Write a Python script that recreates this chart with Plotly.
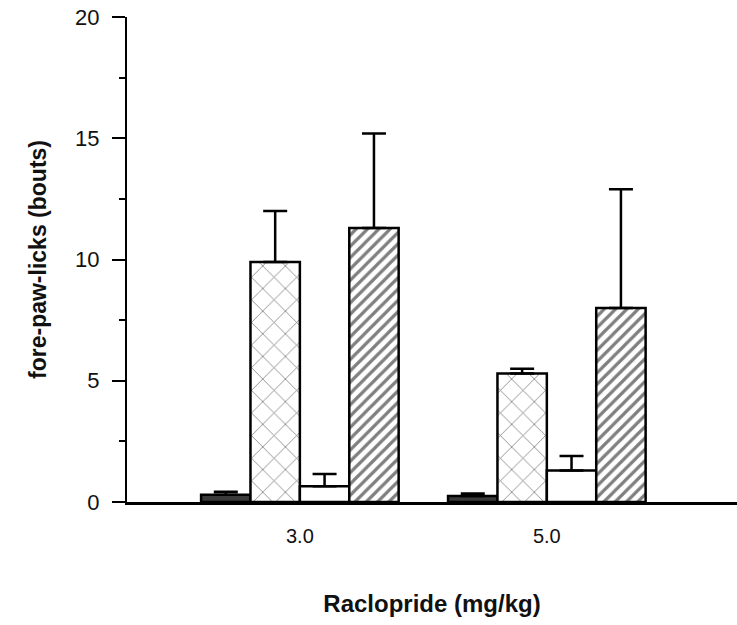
import plotly.graph_objects as go

doses = ["3.0", "5.0"]
x_pos = [0, 1]
black_vals = [0.30, 0.25]
black_err = [0.12, 0.10]
dashed_vals = [9.9, 5.3]
dashed_err = [2.1, 0.2]
white_vals = [0.65, 1.3]
white_err = [0.5, 0.6]
hatched_vals = [11.3, 8.0]
hatched_err = [3.9, 4.9]

fig = go.Figure()

def add_bar(vals, errs, fill, pattern=None):
    marker = dict(color=fill, line=dict(color="black", width=2.5))
    if pattern:
        marker["pattern"] = pattern
    fig.add_trace(go.Bar(
        x=x_pos, y=vals, marker=marker,
        error_y=dict(type="data", symmetric=False, array=errs,
                     arrayminus=[0] * len(errs), color="black",
                     thickness=2.5, width=12),
        showlegend=False,
    ))

add_bar(black_vals, black_err, "#3a3a3a")
add_bar(dashed_vals, dashed_err, "white",
        dict(shape="x", fgcolor="black", bgcolor="white", size=16, solidity=0.1))
add_bar(white_vals, white_err, "white")
add_bar(hatched_vals, hatched_err, "white",
        dict(shape="/", fgcolor="black", bgcolor="white", size=8, solidity=0.4))

fig.update_layout(
    width=737, height=625,
    margin=dict(l=127, r=0, t=17, b=123),
    plot_bgcolor="white", paper_bgcolor="white",
    barmode="group", bargap=0.2, bargroupgap=0,
    font=dict(family="Liberation Sans, Arial, sans-serif", color="#111"),
)
fig.update_xaxes(
    range=[-0.70, 1.77], tickvals=x_pos, ticktext=doses,
    showline=True, linecolor="black", linewidth=2.5,
    showgrid=False, zeroline=False, ticks="",
    tickfont=dict(size=20), ticklabelstandoff=14,
    title=dict(text="<b>Raclopride (mg/kg)</b>", font=dict(size=24), standoff=50),
)
fig.update_yaxes(
    range=[0, 20], tickvals=[0, 5, 10, 15, 20],
    showline=True, linecolor="black", linewidth=2,
    showgrid=False, zeroline=False,
    ticks="outside", ticklen=13, tickwidth=2, tickcolor="black",
    minor=dict(ticks="outside", ticklen=6, tickwidth=2, tickcolor="black", dtick=2.5),
    tickfont=dict(size=22), ticklabelstandoff=8,
    title=dict(text="<b>fore-paw-licks (bouts)</b>", font=dict(size=23), standoff=22),
)

fig.write_html("out.html")
